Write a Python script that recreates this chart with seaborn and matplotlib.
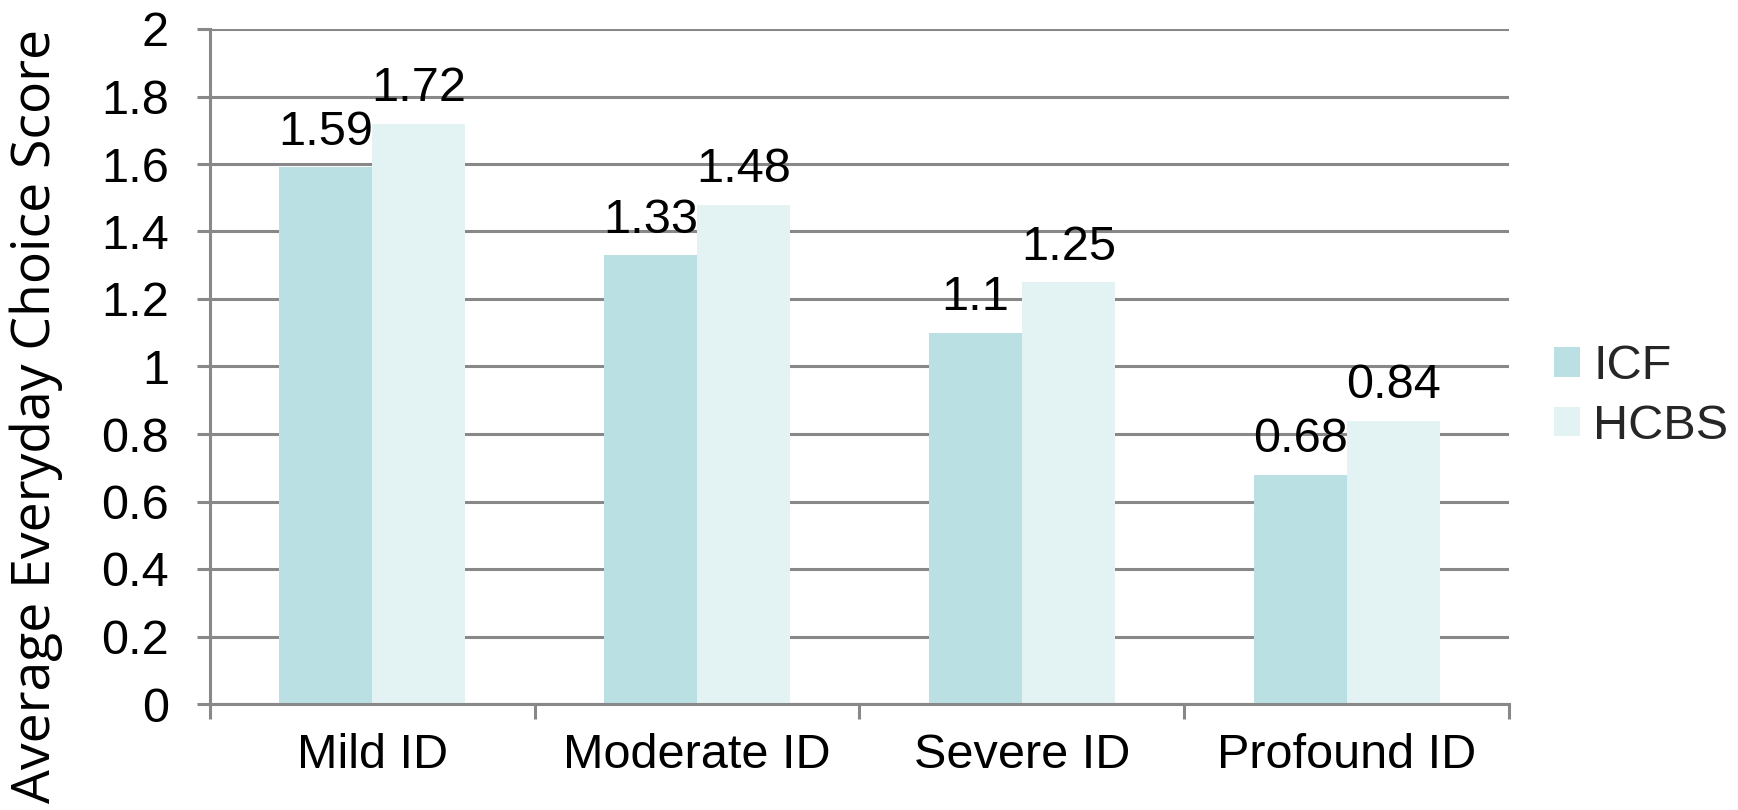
import matplotlib
matplotlib.use("Agg")
import matplotlib.pyplot as plt
from matplotlib.ticker import FixedLocator, FormatStrFormatter, MultipleLocator
import numpy as np
import pandas as pd
import seaborn as sns

# datos
categorias = ["Mild ID", "Moderate ID", "Severe ID", "Profound ID"]
icf = [1.59, 1.33, 1.10, 0.68]
hcbs = [1.72, 1.48, 1.25, 0.84]
grupos = ["ICF", "HCBS"]
colores = ["#BBE0E3", "#E3F3F3"]

df = pd.DataFrame({
    "categoria": categorias * 2,
    "score": icf + hcbs,
    "grupo": [grupos[0]] * len(categorias) + [grupos[1]] * len(categorias),
})

sns.set_style("white")
plt.rcParams["font.family"] = ["Liberation Sans", "DejaVu Sans"]

GRIS = "#888888"
FS = 35

fig = plt.figure(figsize=(17.38, 8.10), dpi=100)
ax = fig.add_axes([210 / 1738, 1 - 704 / 810, (1509 - 210) / 1738, (704 - 29) / 810])

sns.barplot(data=df, x="categoria", y="score", hue="grupo", order=categorias,
            hue_order=grupos, palette=colores, saturation=1, width=0.573,
            linewidth=0, ax=ax)

for cont in ax.containers:
    ax.bar_label(cont, fmt="%g", padding=9, fontsize=FS, color="black")

ax.set_xlim(-0.5, len(categorias) - 0.5)
ax.set_ylim(0, 2)
ax.yaxis.set_major_locator(MultipleLocator(0.2))
ax.yaxis.set_major_formatter(FormatStrFormatter("%g"))
ax.xaxis.set_minor_locator(FixedLocator(np.arange(len(categorias) + 1) - 0.5))

ax.set_axisbelow(True)
ax.grid(axis="y", color=GRIS, linewidth=2.2)
ax.grid(axis="x", visible=False)
sns.despine(ax=ax, top=True, right=True)
for lado in ["left", "bottom"]:
    ax.spines[lado].set_color(GRIS)
    ax.spines[lado].set_linewidth(2.2)

ax.tick_params(axis="y", which="major", left=True, length=9.5, width=2.2, color=GRIS,
               pad=20, labelsize=FS, labelcolor="black")
ax.tick_params(axis="x", which="major", bottom=True, length=0, pad=21, labelsize=FS,
               labelcolor="black")
ax.tick_params(axis="x", which="minor", bottom=True, length=11, width=2.2, color=GRIS)

ax.set_xlabel("")
ax.set_ylabel("")
fig.text(36 / 1738, 1 - 416 / 810, "Average Everyday Choice Score", rotation=90,
         ha="center", va="center", fontsize=38.5, color="black",
         family=["Open Sans", "DejaVu Sans"])

ax.legend_.remove()
handles, labels = ax.get_legend_handles_labels()
fig.legend(handles, labels, loc="center left", bbox_to_anchor=(1554 / 1738, 1 - 396.5 / 810),
           frameon=False, fontsize=FS, borderpad=0, borderaxespad=0, handlelength=0.54,
           handleheight=0.55, handletextpad=0.27, labelspacing=0.3)

fig.savefig("out.png", dpi=100)
